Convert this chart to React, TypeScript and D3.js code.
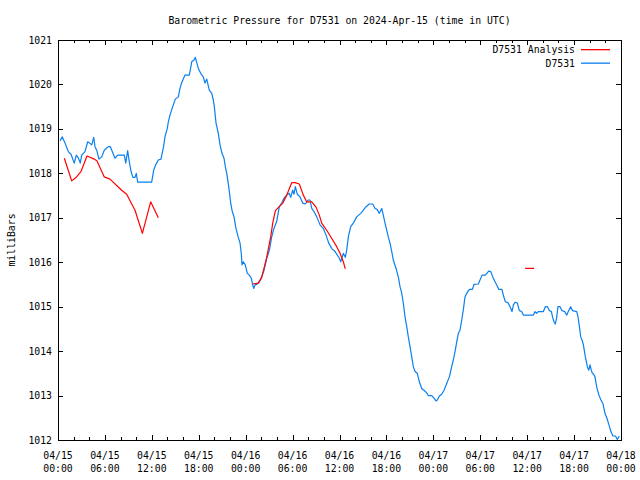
import React from "react";
import * as d3 from "d3";

const TITLE = "Barometric Pressure for D7531 on 2024-Apr-15 (time in UTC)";
const Y_LABEL = "milliBars";
const yTicks = [1012, 1013, 1014, 1015, 1016, 1017, 1018, 1019, 1020, 1021];
const xTickHours = [0, 6, 12, 18, 24, 30, 36, 42, 48, 54, 60, 66, 72];
const xTickDates = ["04/15", "04/15", "04/15", "04/15", "04/16", "04/16", "04/16", "04/16", "04/17", "04/17", "04/17", "04/17", "04/18"];
const xTickTimes = ["00:00", "06:00", "12:00", "18:00", "00:00", "06:00", "12:00", "18:00", "00:00", "06:00", "12:00", "18:00", "00:00"];

// hours since 04/15 00:00 UTC
const blueHours = [
  0.26, 0.55, 0.9, 1.32, 1.66, 2.08, 2.34, 2.6, 2.85, 3.03, 3.45, 3.8, 4.05, 4.31, 4.57, 4.73, 4.95, 5.24, 5.59, 5.92,
  6.43, 6.69, 6.94, 7.29, 7.64, 8.48, 8.66, 8.91, 9.08, 9.34, 9.59, 9.85, 10.01, 10.19, 11.98, 12.24, 12.49, 12.83, 13.17, 13.5,
  13.68, 13.98, 14.11, 14.32, 14.67, 15.0, 15.39, 15.6, 15.82, 16.24, 16.79, 17.0, 17.1, 17.39, 17.56, 17.74, 17.99, 18.25, 18.58, 18.8,
  19.02, 19.35, 19.66, 19.86, 19.99, 20.21, 20.5, 20.72, 20.97, 21.23, 21.4, 21.58, 21.83, 22.09, 22.25, 22.51, 22.76, 23.02, 23.28, 23.44,
  23.53, 23.7, 23.95, 24.21, 24.47, 24.72, 24.9, 25.03, 25.2, 25.41, 25.75, 26.05, 26.35, 26.69, 27.03, 27.33, 27.62, 27.97, 28.3, 28.61,
  28.9, 29.25, 29.58, 29.76, 30.01, 30.18, 30.35, 30.6, 30.95, 31.3, 31.63, 32.0, 32.23, 32.45, 32.74, 33.09, 33.51, 33.93, 34.28, 34.62,
  35.04, 35.43, 35.98, 36.16, 36.49, 36.74, 36.92, 37.13, 37.43, 37.77, 38.2, 38.71, 39.05, 39.39, 39.81, 40.25, 40.54, 40.8, 41.09, 41.4,
  41.6, 41.82, 42.04, 42.24, 42.46, 42.68, 42.88, 43.23, 43.52, 43.74, 43.96, 44.16, 44.38, 44.6, 44.8, 45.02, 45.24, 45.44, 45.66, 45.95,
  46.21, 46.51, 46.81, 47.15, 47.36, 47.79, 48.09, 48.34, 48.51, 48.77, 49.07, 49.37, 49.71, 50.05, 50.35, 50.56, 50.81, 50.99, 51.2, 51.41,
  51.63, 51.83, 52.05, 52.27, 52.47, 52.69, 53.0, 53.2, 53.75, 53.97, 54.23, 54.65, 54.9, 55.08, 55.34, 55.6, 55.89, 56.19, 56.36, 56.78,
  56.95, 57.21, 57.55, 57.81, 58.06, 58.24, 58.45, 58.75, 59.0, 59.3, 59.51, 60.79, 61.0, 61.2, 61.43, 62.07, 62.32, 62.6, 62.84, 63.1,
  63.26, 63.43, 63.6, 63.78, 63.94, 64.2, 64.46, 64.8, 65.06, 65.3, 65.57, 65.8, 66.34, 66.5, 66.68, 66.85, 67.02, 67.19, 67.44, 67.7,
  67.88, 68.04, 68.2, 68.34, 68.5, 68.67, 68.93, 69.18, 69.44, 69.7, 69.95, 70.2, 70.46, 70.71, 70.97, 71.3, 71.53, 71.79,
];
const blueValues = [
  1018.73, 1018.82, 1018.68, 1018.49, 1018.43, 1018.23, 1018.41, 1018.35, 1018.23, 1018.41, 1018.49, 1018.71, 1018.68, 1018.64, 1018.81, 1018.6, 1018.52, 1018.32, 1018.37, 1018.52,
  1018.6, 1018.6, 1018.49, 1018.34, 1018.41, 1018.41, 1018.23, 1018.51, 1018.3, 1018.04, 1017.91, 1017.91, 1018.0, 1017.8, 1017.8, 1018.07, 1018.19, 1018.3, 1018.32, 1018.6,
  1018.82, 1019.01, 1019.16, 1019.31, 1019.5, 1019.67, 1019.72, 1019.91, 1020.04, 1020.21, 1020.21, 1020.4, 1020.51, 1020.55, 1020.61, 1020.49, 1020.34, 1020.25, 1020.17, 1020.03,
  1020.12, 1019.87, 1019.8, 1019.65, 1019.5, 1019.13, 1018.9, 1018.64, 1018.45, 1018.34, 1018.15, 1018.0, 1017.7, 1017.33, 1017.17, 1017.02, 1016.76, 1016.58, 1016.43, 1016.2,
  1015.94, 1016.01, 1015.94, 1015.75, 1015.71, 1015.64, 1015.49, 1015.41, 1015.49, 1015.5, 1015.56, 1015.67, 1015.82, 1016.08, 1016.27, 1016.57, 1016.76, 1016.92, 1017.25, 1017.33,
  1017.44, 1017.51, 1017.55, 1017.46, 1017.62, 1017.53, 1017.7, 1017.53, 1017.47, 1017.33, 1017.31, 1017.4, 1017.4, 1017.21, 1017.14, 1017.02, 1016.84, 1016.76, 1016.61, 1016.43,
  1016.3, 1016.24, 1016.09, 1016.01, 1016.2, 1016.11, 1016.27, 1016.57, 1016.8, 1016.88, 1017.02, 1017.1, 1017.17, 1017.25, 1017.31, 1017.31, 1017.21, 1017.19, 1017.1, 1017.21,
  1017.06, 1016.88, 1016.72, 1016.57, 1016.43, 1016.24, 1016.05, 1015.86, 1015.67, 1015.45, 1015.3, 1015.08, 1014.77, 1014.55, 1014.32, 1014.1, 1013.87, 1013.65, 1013.54, 1013.5,
  1013.31, 1013.16, 1013.12, 1013.06, 1013.0, 1013.0, 1012.94, 1012.88, 1012.9, 1012.99, 1013.03, 1013.12, 1013.27, 1013.42, 1013.65, 1013.8, 1014.02, 1014.21, 1014.4, 1014.47,
  1014.7, 1014.92, 1015.22, 1015.3, 1015.36, 1015.39, 1015.39, 1015.5, 1015.51, 1015.6, 1015.71, 1015.71, 1015.76, 1015.8, 1015.79, 1015.67, 1015.56, 1015.46, 1015.39, 1015.39,
  1015.26, 1015.11, 1015.09, 1015.0, 1014.89, 1015.04, 1015.1, 1015.08, 1014.91, 1014.89, 1014.81, 1014.81, 1014.89, 1014.85, 1014.89, 1014.89, 1015.0, 1015.0, 1014.91, 1014.89,
  1014.76, 1014.66, 1014.61, 1014.76, 1015.0, 1015.0, 1014.91, 1014.89, 1014.81, 1014.91, 1015.0, 1014.91, 1014.89, 1014.77, 1014.55, 1014.32, 1014.25, 1014.14, 1013.87, 1013.65,
  1013.57, 1013.69, 1013.57, 1013.5, 1013.48, 1013.42, 1013.16, 1013.01, 1012.9, 1012.81, 1012.6, 1012.49, 1012.34, 1012.19, 1012.09, 1012.09, 1012.01, 1012.09,
];

// NaN marks gaps between analysis segments
const redHours = [
  0.81, 1.75, 2.26, 2.94, 3.71, 4.64, 4.99, 5.92, 6.65, 8.14, 8.78, 9.85, 10.79, 11.85, 12.83, NaN,
  24.9, 25.62, 26.05, 26.69, 27.2, 27.46, 27.8, 28.3, 28.74, 29.25, 29.89, 30.31, 30.86, 31.37, 31.8, 32.45, 33.0, 33.42, 33.72, 34.36, 35.0, 35.64, 36.07, 36.49, 36.74, NaN,
  59.73, 60.88,
];
const redValues = [
  1018.34, 1017.83, 1017.9, 1018.04, 1018.39, 1018.32, 1018.28, 1017.92, 1017.87, 1017.62, 1017.53, 1017.17, 1016.65, 1017.36, 1017.0, NaN,
  1015.51, 1015.53, 1015.66, 1016.11, 1016.57, 1016.88, 1017.16, 1017.25, 1017.33, 1017.51, 1017.79, 1017.79, 1017.76, 1017.51, 1017.36, 1017.36, 1017.24, 1017.06, 1016.88, 1016.72, 1016.54, 1016.35, 1016.2, 1016.01, 1015.85, NaN,
  1015.86, 1015.86,
];

const seriesNames = ["D7531 Analysis", "D7531"];
const seriesColors = ["#ff0000", "#0a7ff0"];

const W = 640, H = 480;
const L = 58, R = 621, T = 40, B = 440;
const FONT = "'DejaVu Sans Mono', monospace";

export default function App() {
  const x = d3.scaleLinear().domain([0, 72]).range([L, R]);
  const y = d3.scaleLinear().domain([1012, 1021]).range([B, T]);
  const line = d3
    .line<[number, number]>()
    .defined((d) => !isNaN(d[0]) && !isNaN(d[1]))
    .x((d) => x(d[0]))
    .y((d) => y(d[1]));
  const blue: [number, number][] = blueHours.map((h, i) => [h, blueValues[i]]);
  const red: [number, number][] = redHours.map((h, i) => [h, redValues[i]]);
  const minor = d3.range(0, 73, 2);

  return (
    <svg width={W} height={H} style={{ position: "absolute", left: 0, top: 0, background: "#fff" }} fontFamily={FONT} fontSize={9.8}>
      <rect x={0} y={0} width={W} height={H} fill="#fff" />
      <text x={(L + R) / 2} y={24} textAnchor="middle">{TITLE}</text>
      <g shapeRendering="crispEdges" stroke="#000">
        {minor.map((h) => {
          const major = h % 6 === 0;
          const len = major ? 5 : 3;
          const xx = Math.round(x(h)) + 0.5;
          return (
            <g key={h}>
              <line x1={xx} x2={xx} y1={B} y2={B - len} />
              <line x1={xx} x2={xx} y1={T} y2={T + len} />
            </g>
          );
        })}
        {yTicks.map((v) => {
          const yy = Math.round(y(v)) + 0.5;
          return (
            <g key={v}>
              <line x1={L} x2={L + 5} y1={yy} y2={yy} />
              <line x1={R} x2={R - 5} y1={yy} y2={yy} />
            </g>
          );
        })}
      </g>
      {yTicks.map((v) => (
        <text key={v} x={52} y={y(v) + 3.5} textAnchor="end">{v}</text>
      ))}
      {xTickHours.map((h, i) => (
        <text key={h} x={x(h)} textAnchor="middle">
          <tspan x={x(h)} y={459}>{xTickDates[i]}</tspan>
          <tspan x={x(h)} y={472}>{xTickTimes[i]}</tspan>
        </text>
      ))}
      <text transform={`translate(15,${(T + B) / 2}) rotate(-90)`} textAnchor="middle">{Y_LABEL}</text>
      <path d={line(blue) || ""} fill="none" stroke={seriesColors[1]} strokeWidth={1.2} strokeLinejoin="round" />
      <path d={line(red) || ""} fill="none" stroke={seriesColors[0]} strokeWidth={1.2} strokeLinejoin="round" />
      {seriesNames.map((n, i) => (
        <g key={n}>
          <text x={575} y={53 + i * 13.5} textAnchor="end">{n}</text>
          <rect x={581} y={49 + i * 13.5} width={29} height={1.3} fill={seriesColors[i]} />
        </g>
      ))}
      <rect x={L + 0.5} y={T + 0.5} width={R - L} height={B - T} fill="none" stroke="#000" shapeRendering="crispEdges" />
    </svg>
  );
}
